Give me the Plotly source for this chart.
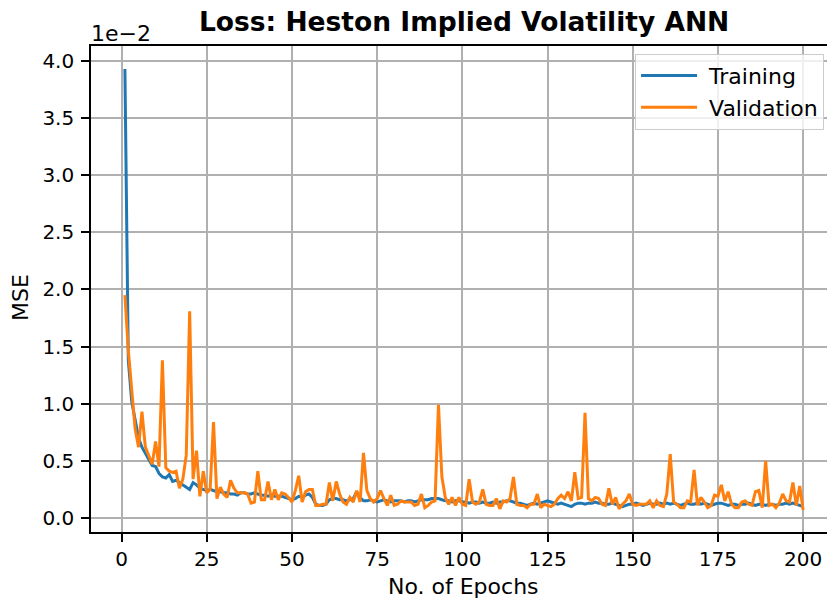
import plotly.graph_objects as go

# MSE values in units of 1e-2, one per epoch (1..200)
epochs = list(range(1, 201))

training = [
    3.93, 1.38, 1.02, 0.84, 0.70, 0.62, 0.57, 0.51, 0.46, 0.45,
    0.39, 0.36, 0.35, 0.38, 0.32, 0.33, 0.31, 0.29, 0.27, 0.25,
    0.31, 0.29, 0.26, 0.25, 0.24, 0.25, 0.24, 0.23, 0.23, 0.22,
    0.22, 0.21, 0.21, 0.20, 0.22, 0.22, 0.21, 0.21, 0.22, 0.21,
    0.20, 0.20, 0.19, 0.20, 0.19, 0.19, 0.19, 0.18, 0.17, 0.16,
    0.17, 0.19, 0.18, 0.20, 0.21, 0.18, 0.12, 0.11, 0.11, 0.12,
    0.16, 0.17, 0.17, 0.16, 0.16, 0.15, 0.16, 0.17, 0.23, 0.18,
    0.15, 0.15, 0.16, 0.15, 0.14, 0.15, 0.16, 0.15, 0.14, 0.15,
    0.15, 0.15, 0.14, 0.15, 0.15, 0.14, 0.15, 0.16, 0.16, 0.16,
    0.17, 0.17, 0.17, 0.16, 0.15, 0.15, 0.14, 0.15, 0.15, 0.14,
    0.14, 0.13, 0.14, 0.14, 0.13, 0.14, 0.13, 0.13, 0.14, 0.13,
    0.14, 0.14, 0.15, 0.15, 0.14, 0.13, 0.13, 0.12, 0.11, 0.12,
    0.13, 0.12, 0.13, 0.14, 0.15, 0.14, 0.13, 0.12, 0.13, 0.12,
    0.11, 0.10, 0.12, 0.13, 0.13, 0.12, 0.13, 0.13, 0.14, 0.13,
    0.13, 0.12, 0.12, 0.13, 0.12, 0.11, 0.10, 0.11, 0.12, 0.12,
    0.13, 0.12, 0.11, 0.12, 0.13, 0.12, 0.12, 0.13, 0.12, 0.13,
    0.12, 0.13, 0.12, 0.11, 0.12, 0.13, 0.12, 0.12, 0.13, 0.12,
    0.13, 0.12, 0.11, 0.12, 0.13, 0.13, 0.12, 0.11, 0.12, 0.12,
    0.11, 0.12, 0.12, 0.13, 0.12, 0.11, 0.12, 0.12, 0.11, 0.12,
    0.12, 0.11, 0.12, 0.12, 0.13, 0.12, 0.13, 0.12, 0.11, 0.10,
]

validation = [
    1.95, 1.47, 1.12, 0.78, 0.62, 0.93, 0.62, 0.55, 0.47, 0.67,
    0.45, 1.38, 0.44, 0.41, 0.40, 0.41, 0.26, 0.34, 0.55, 1.81,
    0.34, 0.59, 0.19, 0.41, 0.22, 0.25, 0.84, 0.17, 0.27, 0.21,
    0.18, 0.33, 0.26, 0.22, 0.22, 0.22, 0.21, 0.13, 0.14, 0.41,
    0.16, 0.16, 0.32, 0.16, 0.25, 0.16, 0.22, 0.21, 0.18, 0.14,
    0.24, 0.37, 0.14, 0.23, 0.25, 0.25, 0.11, 0.11, 0.12, 0.12,
    0.31, 0.15, 0.32, 0.21, 0.14, 0.12, 0.18, 0.14, 0.24, 0.14,
    0.57, 0.24, 0.17, 0.14, 0.17, 0.24, 0.17, 0.11, 0.20, 0.11,
    0.12, 0.15, 0.14, 0.14, 0.14, 0.11, 0.12, 0.21, 0.09, 0.11,
    0.14, 0.15, 0.99, 0.36, 0.18, 0.12, 0.18, 0.11, 0.18, 0.12,
    0.11, 0.34, 0.14, 0.12, 0.14, 0.25, 0.12, 0.11, 0.11, 0.17,
    0.08, 0.15, 0.14, 0.17, 0.36, 0.12, 0.11, 0.11, 0.09, 0.12,
    0.12, 0.21, 0.09, 0.12, 0.11, 0.10, 0.12, 0.17, 0.20, 0.17,
    0.23, 0.15, 0.40, 0.17, 0.18, 0.92, 0.17, 0.15, 0.18, 0.17,
    0.12, 0.11, 0.26, 0.12, 0.18, 0.08, 0.12, 0.15, 0.21, 0.12,
    0.11, 0.12, 0.12, 0.12, 0.15, 0.09, 0.15, 0.11, 0.10, 0.21,
    0.56, 0.14, 0.12, 0.09, 0.09, 0.15, 0.14, 0.42, 0.11, 0.18,
    0.14, 0.09, 0.11, 0.20, 0.19, 0.29, 0.15, 0.23, 0.12, 0.09,
    0.09, 0.14, 0.15, 0.12, 0.11, 0.23, 0.24, 0.09, 0.50, 0.11,
    0.12, 0.09, 0.13, 0.21, 0.15, 0.14, 0.31, 0.11, 0.28, 0.07,
]

x_ticks = [0, 25, 50, 75, 100, 125, 150, 175, 200]
y_ticks = [0.0, 0.5, 1.0, 1.5, 2.0, 2.5, 3.0, 3.5, 4.0]
y_tick_labels = ["0.0", "0.5", "1.0", "1.5", "2.0", "2.5", "3.0", "3.5", "4.0"]

FONT = "DejaVu Sans"
TICK_SIZE = 20
LABEL_SIZE = 22

fig = go.Figure()
fig.add_trace(go.Scatter(x=epochs, y=training, mode="lines", name="\u00a0Training",
                         line=dict(color="#1f77b4", width=3)))
fig.add_trace(go.Scatter(x=epochs, y=validation, mode="lines", name="\u00a0Validation",
                         line=dict(color="#ff7f0e", width=3)))

fig.update_layout(
    width=827, height=601,
    margin=dict(l=91, r=0, t=46, b=69),
    paper_bgcolor="white", plot_bgcolor="white",
    font=dict(family=FONT, size=LABEL_SIZE, color="black"),
    showlegend=True,
    legend=dict(x=0.996, y=0.984, xanchor="right", yanchor="top",
                bgcolor="rgba(255,255,255,0.8)", bordercolor="#cccccc", borderwidth=1,
                font=dict(family=FONT, size=LABEL_SIZE), itemwidth=56),
    title=dict(text="<b>Loss: Heston Implied Volatility ANN</b>",
               x=0.507, xref="paper", xanchor="center",
               y=1 - 22 / 601, yref="container", yanchor="middle",
               font=dict(family=FONT, size=26.5, color="black")),
)

fig.update_xaxes(
    range=[-8.95, 207.0], tickvals=x_ticks, ticktext=[str(t) for t in x_ticks],
    showgrid=True, gridcolor="#b0b0b0", gridwidth=1.6,
    showline=True, linecolor="black", linewidth=1.6, mirror=True,
    ticks="outside", ticklen=8, tickwidth=1.6, tickcolor="black",
    tickfont=dict(family=FONT, size=TICK_SIZE), zeroline=False,
)
fig.update_yaxes(
    range=[-0.1225, 4.131], tickvals=y_ticks, ticktext=y_tick_labels,
    showgrid=True, gridcolor="#b0b0b0", gridwidth=1.6,
    showline=True, linecolor="black", linewidth=1.6, mirror=False,
    ticks="outside", ticklen=8, tickwidth=1.6, tickcolor="black",
    tickfont=dict(family=FONT, size=TICK_SIZE), zeroline=False,
    ticklabelstandoff=3,
)

fig.add_annotation(text="1e\u22122", xref="paper", yref="paper", x=0, y=1,
                   xanchor="left", yanchor="bottom", showarrow=False,
                   font=dict(family=FONT, size=22), xshift=-2, yshift=-2)
fig.add_annotation(text="No. of Epochs", xref="paper", yref="paper",
                   x=(464 - 91) / 736, y=0, xanchor="center", yanchor="middle",
                   yshift=-(586 - 532), showarrow=False,
                   font=dict(family=FONT, size=LABEL_SIZE))
fig.add_annotation(text="MSE", xref="paper", yref="paper", x=0, y=(532 - 298) / 486,
                   xanchor="center", yanchor="middle", xshift=-(91 - 20),
                   textangle=-90, showarrow=False,
                   font=dict(family=FONT, size=LABEL_SIZE))

fig.write_html("out.html")
